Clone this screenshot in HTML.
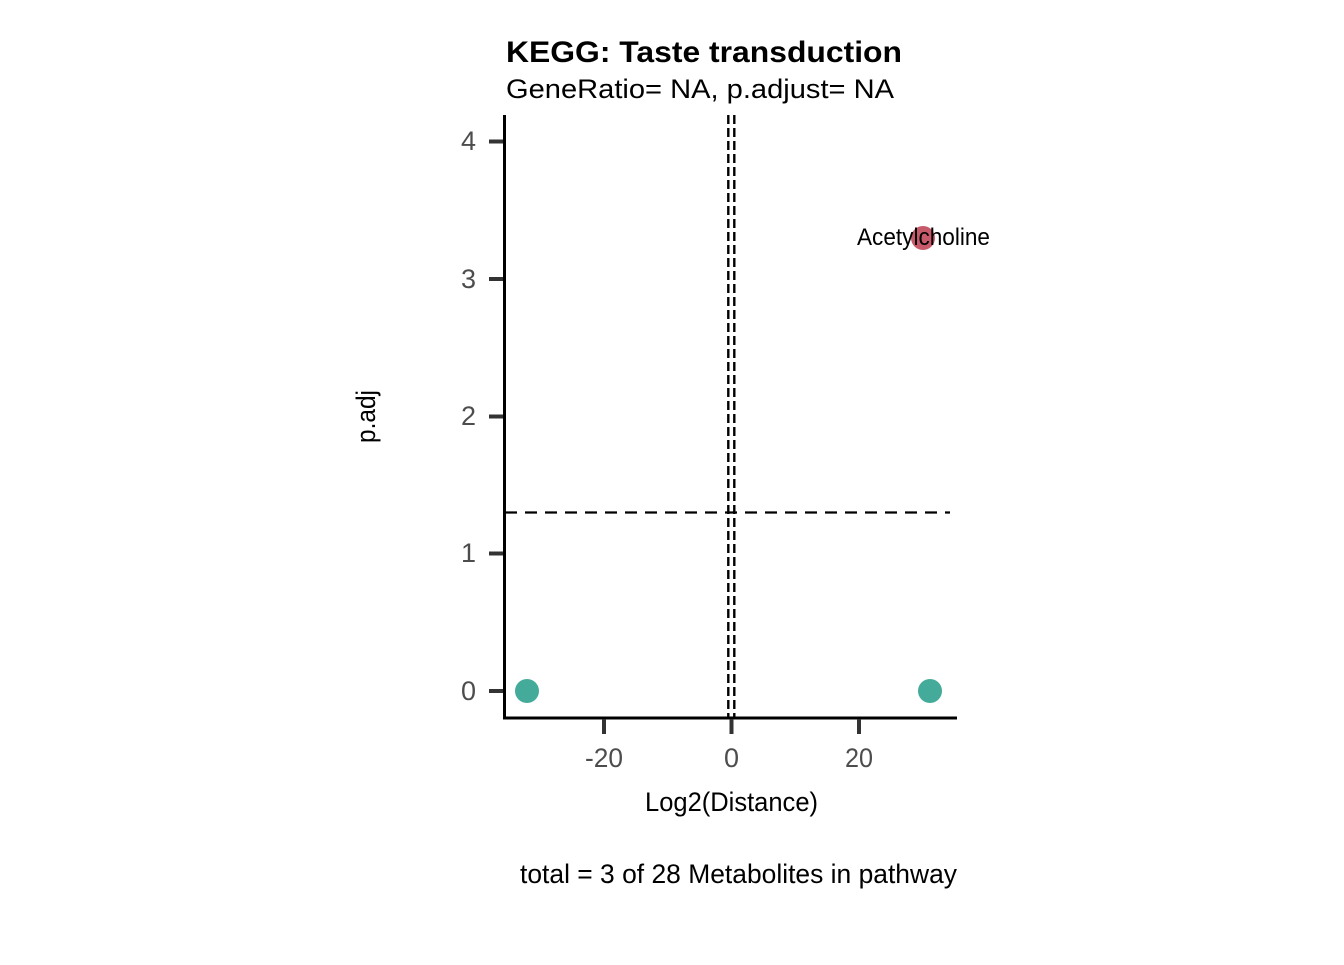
<!DOCTYPE html>
<html><head><meta charset="utf-8"><style>html,body{margin:0;padding:0;background:#fff}</style></head>
<body>
<svg width="1344" height="960" viewBox="0 0 1344 960" xmlns="http://www.w3.org/2000/svg" font-family="'Liberation Sans', sans-serif">
<rect width="1344" height="960" fill="#fff"/>
<text x="506" y="62" font-size="30" font-weight="bold" textLength="396" lengthAdjust="spacingAndGlyphs">KEGG: Taste transduction</text>
<text x="506" y="98" font-size="27" textLength="388" lengthAdjust="spacingAndGlyphs">GeneRatio= NA, p.adjust= NA</text>
<line x1="728.3" y1="115" x2="728.3" y2="718" stroke="#000" stroke-width="2.4" stroke-dasharray="9,4"/>
<line x1="734.3" y1="115" x2="734.3" y2="718" stroke="#000" stroke-width="2.4" stroke-dasharray="9,4"/>
<line x1="505" y1="512.5" x2="950" y2="512.5" stroke="#000" stroke-width="2.2" stroke-dasharray="12,8"/>
<line x1="504.5" y1="115" x2="504.5" y2="719.5" stroke="#000" stroke-width="3"/>
<line x1="503" y1="718" x2="957" y2="718" stroke="#000" stroke-width="3"/>
<g stroke="#333" stroke-width="4">
<line x1="489" y1="141.5" x2="503" y2="141.5"/><line x1="489" y1="279" x2="503" y2="279"/><line x1="489" y1="416.5" x2="503" y2="416.5"/><line x1="489" y1="553.5" x2="503" y2="553.5"/><line x1="489" y1="691" x2="503" y2="691"/>
<line x1="604" y1="719" x2="604" y2="734"/><line x1="731.5" y1="719" x2="731.5" y2="734"/><line x1="859" y1="719" x2="859" y2="734"/>
</g>
<g font-size="27" fill="#4d4d4d" text-anchor="end">
<text x="476" y="150">4</text><text x="476" y="288">3</text><text x="476" y="425">2</text><text x="476" y="562">1</text><text x="476" y="700">0</text>
</g>
<g font-size="27" fill="#4d4d4d" text-anchor="middle">
<text x="604" y="767" textLength="38" lengthAdjust="spacingAndGlyphs">-20</text><text x="731.5" y="767">0</text><text x="859" y="767" textLength="28" lengthAdjust="spacingAndGlyphs">20</text>
</g>
<text x="645" y="811" font-size="27" textLength="173" lengthAdjust="spacingAndGlyphs">Log2(Distance)</text>
<text transform="translate(375,443) rotate(-90)" font-size="27" textLength="53" lengthAdjust="spacingAndGlyphs">p.adj</text>
<circle cx="527" cy="691" r="12" fill="#44ab9a"/>
<circle cx="930" cy="691" r="12" fill="#44ab9a"/>
<circle cx="923" cy="238" r="12" fill="#c75a6a"/>
<text x="857" y="245" font-size="24" textLength="133" lengthAdjust="spacingAndGlyphs">Acetylcholine</text>
<text x="520" y="883" font-size="27" textLength="437" lengthAdjust="spacingAndGlyphs">total = 3 of 28 Metabolites in pathway</text>
</svg>
</body></html>
